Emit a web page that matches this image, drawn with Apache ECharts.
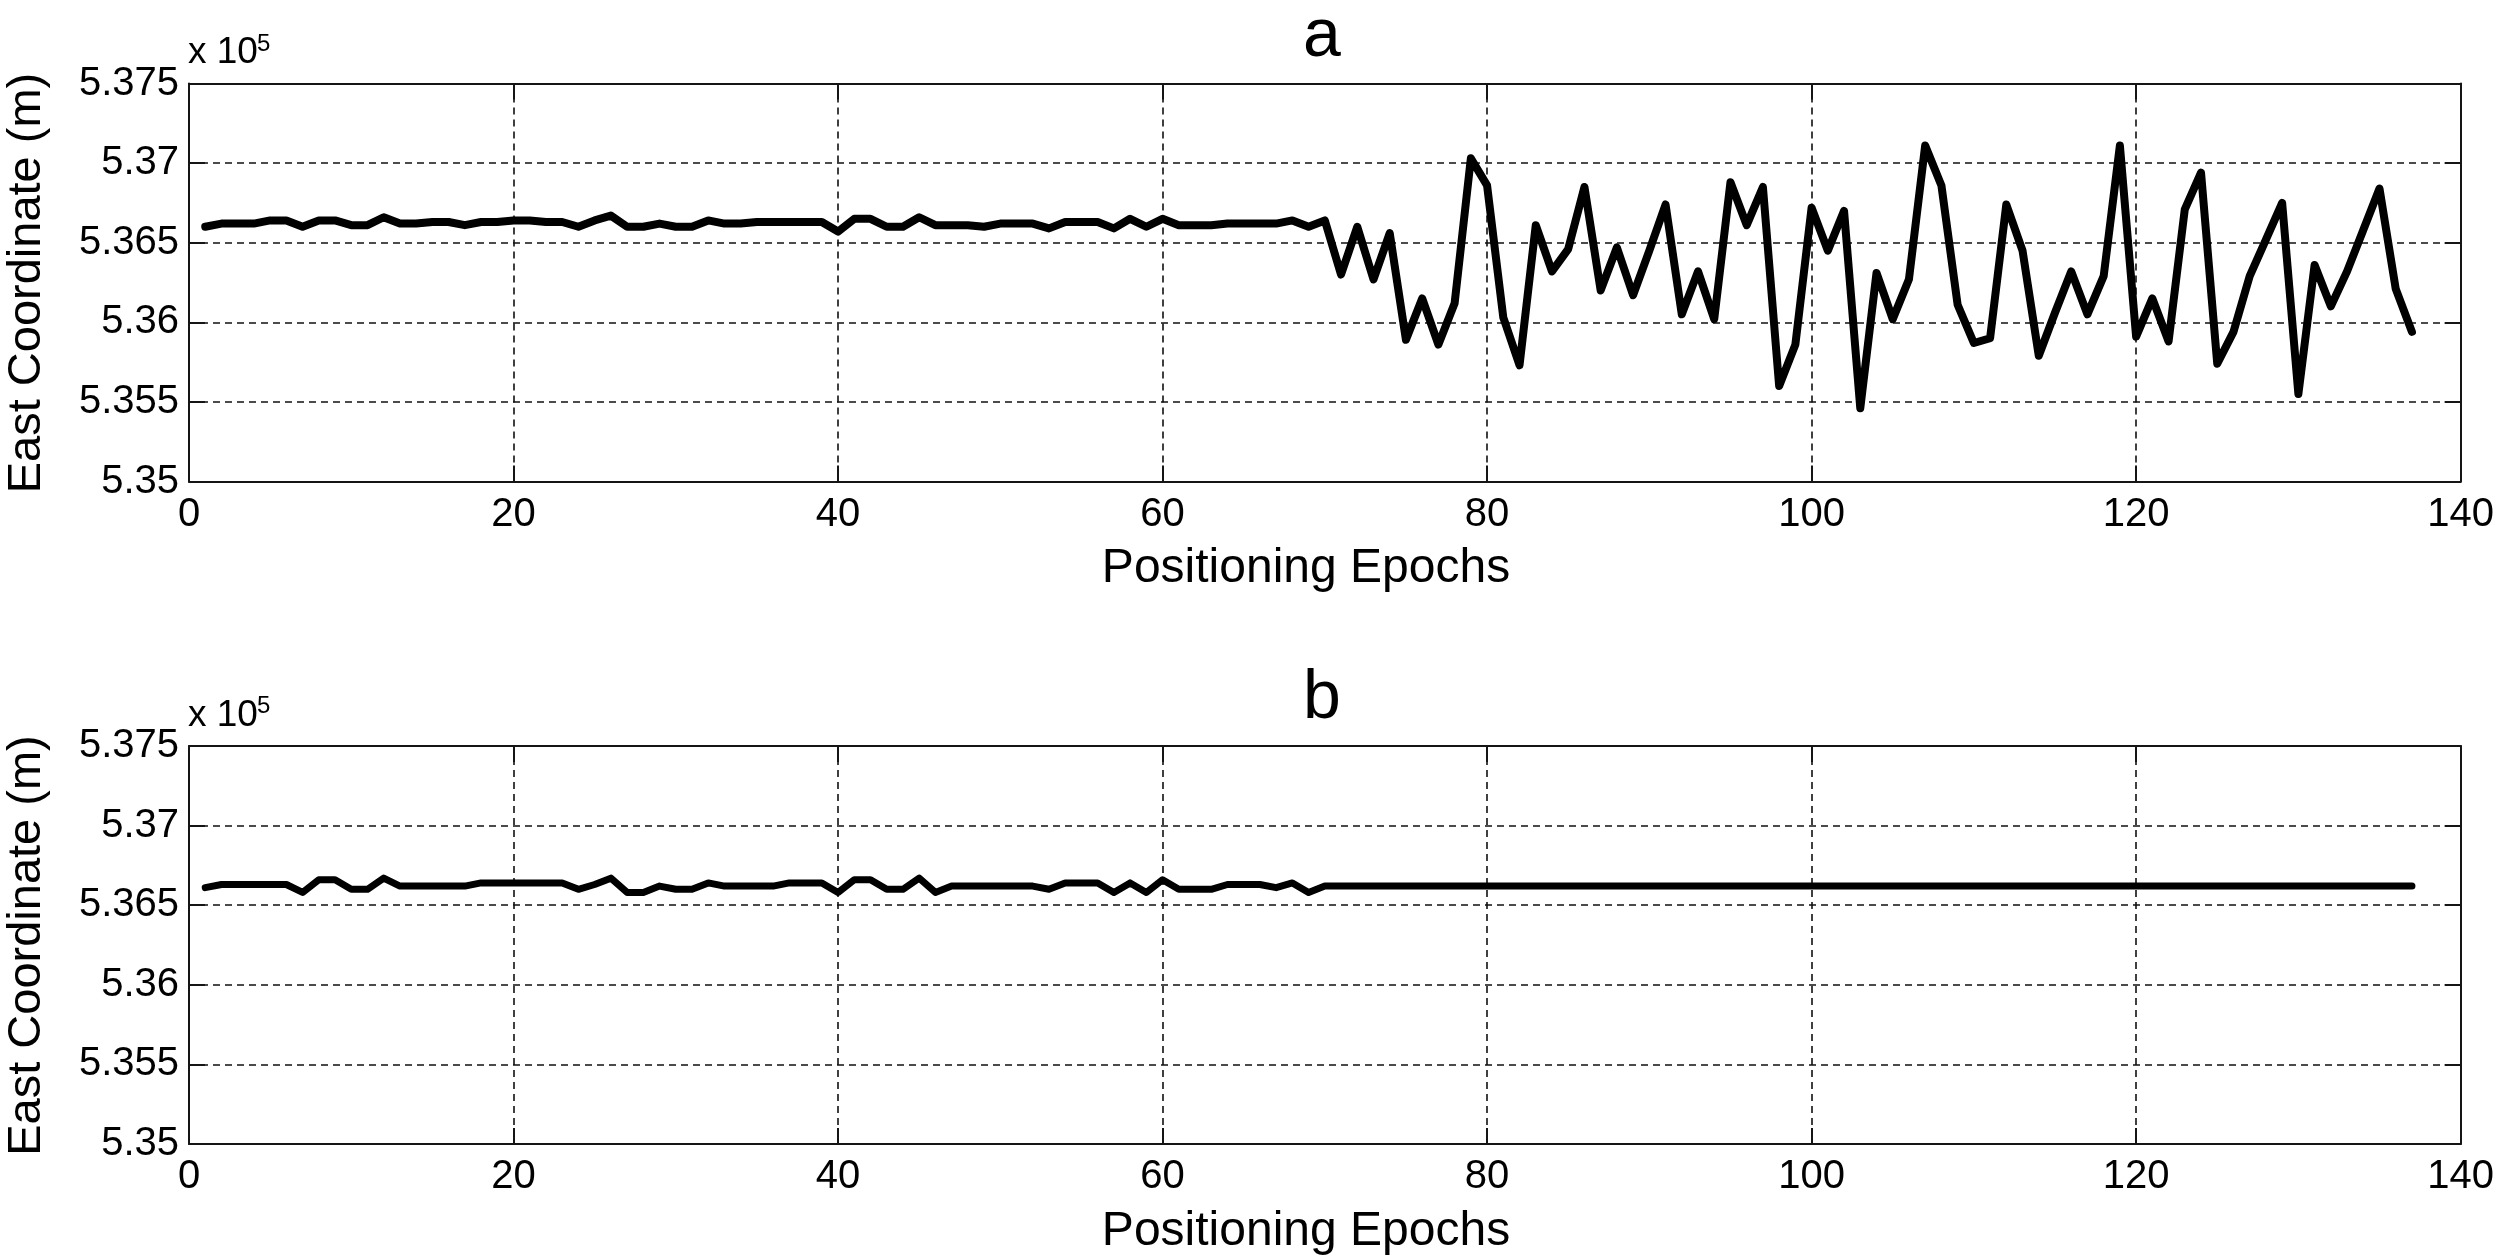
<!DOCTYPE html>
<html>
<head>
<meta charset="utf-8">
<script src="https://cdn.jsdelivr.net/npm/echarts@6/dist/echarts.min.js"></script>
<style>
html,body{margin:0;padding:0;background:#fff;}
#chart{width:2497px;height:1260px;}
</style>
</head>
<body>
<div id="chart"></div>
<script>
// East coordinate (x 10^5 m) per positioning epoch (epochs 1..137)
const eastA = [
 5.3660,5.3662,5.3662,5.3662,5.3664,5.3664,5.3660,5.3664,5.3664,5.3661,
 5.3661,5.3666,5.3662,5.3662,5.3663,5.3663,5.3661,5.3663,5.3663,5.3664,
 5.3664,5.3663,5.3663,5.3660,5.3664,5.3667,5.3660,5.3660,5.3662,5.3660,
 5.3660,5.3664,5.3662,5.3662,5.3663,5.3663,5.3663,5.3663,5.3663,5.3657,
 5.3665,5.3665,5.3660,5.3660,5.3666,5.3661,5.3661,5.3661,5.3660,5.3662,
 5.3662,5.3662,5.3659,5.3663,5.3663,5.3663,5.3659,5.3665,5.3660,5.3665,
 5.3661,5.3661,5.3661,5.3662,5.3662,5.3662,5.3662,5.3664,5.3660,5.3664,
 5.3630,5.3660,5.3627,5.3656,5.3589,5.3615,5.3586,5.3612,5.3703,5.3686,
 5.3603,5.3573,5.3661,5.3632,5.3646,5.3685,5.3620,5.3647,5.3617,5.3645,
 5.3674,5.3605,5.3632,5.3602,5.3688,5.3661,5.3685,5.3560,5.3586,5.3672,
 5.3645,5.3670,5.3546,5.3631,5.3602,5.3627,5.3711,5.3686,5.3611,5.3587,
 5.3590,5.3674,5.3645,5.3579,5.3606,5.3632,5.3605,5.3629,5.3711,5.3591,
 5.3615,5.3588,5.3671,5.3694,5.3574,5.3594,5.3629,5.3652,5.3675,5.3555,
 5.3636,5.3610,5.3632,5.3658,5.3684,5.3621,5.3594
];
const eastB = [
 5.3661,5.3663,5.3663,5.3663,5.3663,5.3663,5.3658,5.3666,5.3666,5.3660,
 5.3660,5.3667,5.3662,5.3662,5.3662,5.3662,5.3662,5.3664,5.3664,5.3664,
 5.3664,5.3664,5.3664,5.3660,5.3663,5.3667,5.3658,5.3658,5.3662,5.3660,
 5.3660,5.3664,5.3662,5.3662,5.3662,5.3662,5.3664,5.3664,5.3664,5.3658,
 5.3666,5.3666,5.3660,5.3660,5.3667,5.3658,5.3662,5.3662,5.3662,5.3662,
 5.3662,5.3662,5.3660,5.3664,5.3664,5.3664,5.3658,5.3664,5.3658,5.3666,
 5.3660,5.3660,5.3660,5.3663,5.3663,5.3663,5.3661,5.3664,5.3658,5.3662,
 5.3662,5.3662,5.3662,5.3662,5.3662,5.3662,5.3662,5.3662,5.3662,5.3662,
 5.3662,5.3662,5.3662,5.3662,5.3662,5.3662,5.3662,5.3662,5.3662,5.3662,
 5.3662,5.3662,5.3662,5.3662,5.3662,5.3662,5.3662,5.3662,5.3662,5.3662,
 5.3662,5.3662,5.3662,5.3662,5.3662,5.3662,5.3662,5.3662,5.3662,5.3662,
 5.3662,5.3662,5.3662,5.3662,5.3662,5.3662,5.3662,5.3662,5.3662,5.3662,
 5.3662,5.3662,5.3662,5.3662,5.3662,5.3662,5.3662,5.3662,5.3662,5.3662,
 5.3662,5.3662,5.3662,5.3662,5.3662,5.3662,5.3662
];
const xRange = [0, 140];
const xStep = 20;
const yRange = [5.35, 5.375];
const yStep = 0.005;
const panelTitles = ['a', 'b'];
const xName = 'Positioning Epochs';
const yName = 'East Coordinate (m)';
const scaleText = 'x 10';
const scaleExp = '5';

const FONT = '"Liberation Sans", Arial, Helvetica, sans-serif';
const AX = '#151515';

function pairs(vals){ return vals.map((v,i)=>[i+1, v]); }

const grids = [
  {left:189, right:34, top:83.5, height:398},
  {left:189, right:34, top:746, height:398}
];

const xAxes = [], yAxes = [];
grids.forEach((g, gi) => {
  xAxes.push({
    gridIndex: gi, type:'value', position:'bottom', min:xRange[0], max:xRange[1], interval:xStep,
    axisLine:{show:true, onZero:false, lineStyle:{color:AX, width:2}},
    axisTick:{show:true, inside:true, length:16, lineStyle:{color:AX, width:2}},
    axisLabel:{show:true, fontSize:40, color:'#000', fontFamily:FONT, margin:13},
    splitLine:{show:true, lineStyle:{type:[7,5], color:'#111', width:1.6}}
  });
  xAxes.push({
    gridIndex: gi, type:'value', position:'top', min:xRange[0], max:xRange[1], interval:xStep,
    axisLine:{show:true, onZero:false, lineStyle:{color:AX, width:2}},
    axisTick:{show:true, inside:true, length:16, lineStyle:{color:AX, width:2}},
    axisLabel:{show:false}, splitLine:{show:false}
  });
  yAxes.push({
    gridIndex: gi, type:'value', position:'left', min:yRange[0], max:yRange[1], interval:yStep,
    axisLine:{show:true, onZero:false, lineStyle:{color:AX, width:2}},
    axisTick:{show:true, inside:true, length:16, lineStyle:{color:AX, width:2}},
    axisLabel:{show:true, fontSize:40, color:'#000', fontFamily:FONT, margin:10,
      formatter: v => String(parseFloat(v.toFixed(3)))},
    splitLine:{show:true, lineStyle:{type:[7,5], color:'#111', width:1.6}}
  });
  yAxes.push({
    gridIndex: gi, type:'value', position:'right', min:yRange[0], max:yRange[1], interval:yStep,
    axisLine:{show:true, onZero:false, lineStyle:{color:AX, width:2}},
    axisTick:{show:true, inside:true, length:16, lineStyle:{color:AX, width:2}},
    axisLabel:{show:false}, splitLine:{show:false}
  });
});

const dy = 662.5;
const graphics = [];
[0,1].forEach(p => {
  const off = p * dy;
  graphics.push({type:'text', x:1322, y:37+off, style:{text:panelTitles[p], font:'68px '+FONT, fill:'#000', textAlign:'center', textVerticalAlign:'middle'}});
  graphics.push({type:'text', x:188, y:53+off, style:{text:scaleText, font:'37px '+FONT, fill:'#000', textAlign:'left', textVerticalAlign:'middle'}});
  graphics.push({type:'text', x:257, y:44+off, style:{text:scaleExp, font:'24px '+FONT, fill:'#000', textAlign:'left', textVerticalAlign:'middle'}});
  graphics.push({type:'text', x:1306, y:569+off, style:{text:xName, font:'48px '+FONT, fill:'#000', textAlign:'center', textVerticalAlign:'middle'}});
  graphics.push({type:'text', x:27, y:283+off, rotation:Math.PI/2, style:{text:yName, font:'47px '+FONT, fill:'#000', textAlign:'center', textVerticalAlign:'middle'}});
});

const chart = echarts.init(document.getElementById('chart'), null, {renderer:'canvas'});
chart.setOption({
  backgroundColor:'#fff',
  animation:false,
  grid: grids,
  xAxis: xAxes,
  yAxis: yAxes,
  graphic: graphics,
  series: [
    {type:'line', xAxisIndex:0, yAxisIndex:0, data:pairs(eastA), showSymbol:false, symbol:'none',
     lineStyle:{color:'#000', width:8, join:'round', cap:'round'}, z:5},
    {type:'line', xAxisIndex:2, yAxisIndex:2, data:pairs(eastB), showSymbol:false, symbol:'none',
     lineStyle:{color:'#000', width:7, join:'round', cap:'round'}, z:5}
  ]
});
</script>
</body>
</html>
